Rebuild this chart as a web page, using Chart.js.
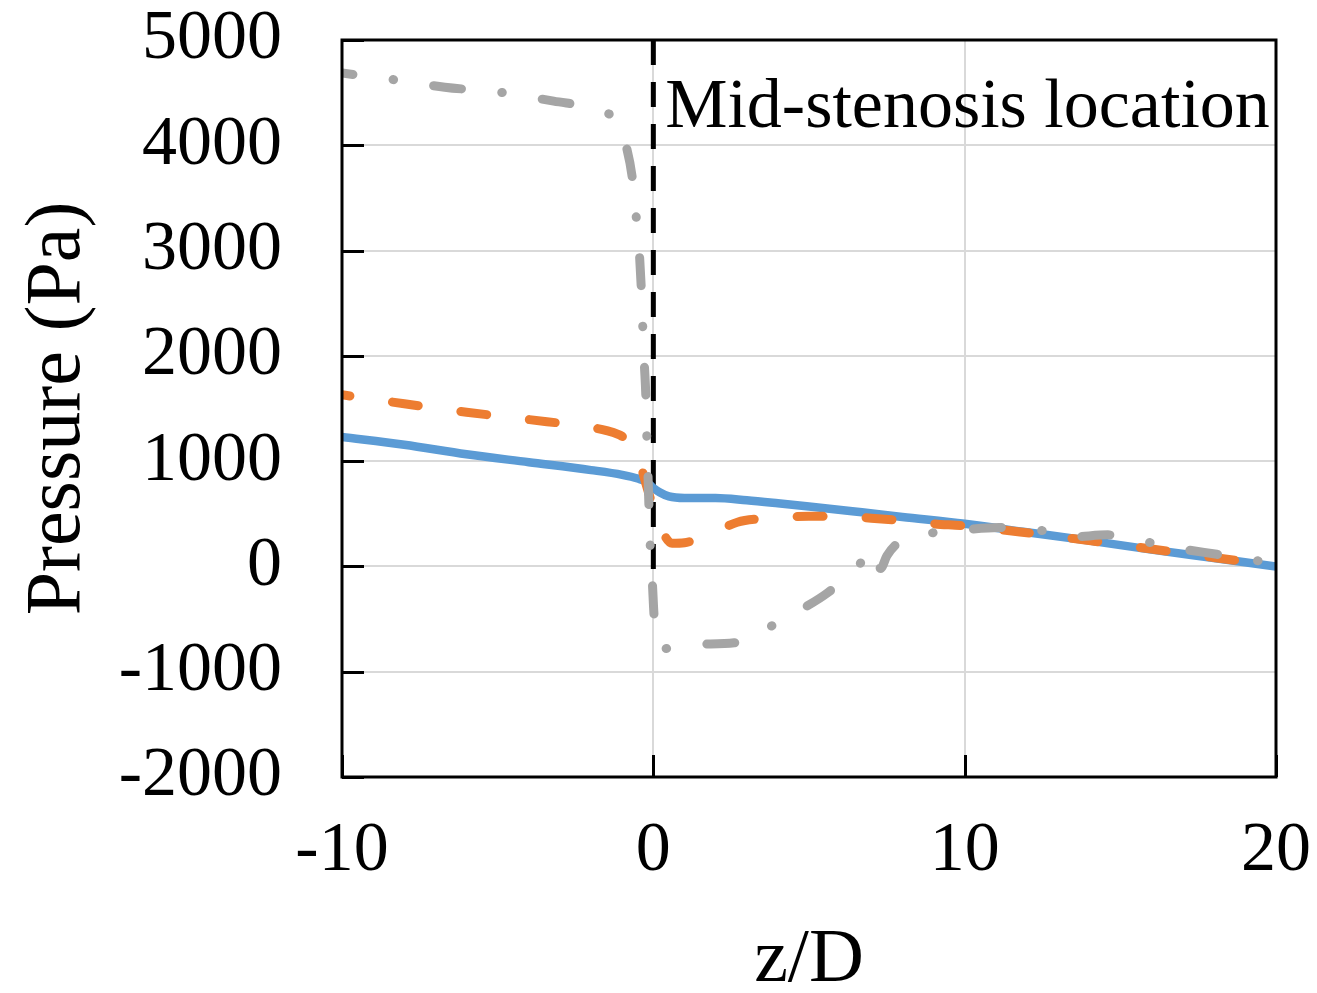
<!DOCTYPE html>
<html lang="en">
<head>
  <meta charset="UTF-8">
  <title>Pressure along z/D</title>
  <script src="https://cdn.jsdelivr.net/npm/chart.js"></script>
  <style>
    html, body { margin: 0; padding: 0; background: #fff; }
    canvas { display: block; }
  </style>
</head>
<body>
  <canvas id="pressureChart" width="1317" height="993"></canvas>

  <script>
    // axis ticks
    const xTicks = [-10, 0, 10, 20];
    const yTicks = [-2000, -1000, 0, 1000, 2000, 3000, 4000, 5000];

    // solid blue curve
    const zBlue = [-10, -8, -6, -4, -2, -1, -0.5, -0.2, 0, 0.2, 0.5, 1, 2, 3, 4, 5, 6.7, 8, 10, 12, 14, 16, 18, 20];
    const pBlue = [1230, 1155, 1065, 990, 915, 870, 835, 800, 745, 705, 665, 650, 650, 628, 600, 570, 514, 470, 405, 325, 245, 160, 80, 0];

    // dashed orange curve
    const zOrange = [-10, -8, -6, -4, -2, -1.5, -1, -0.7, -0.5, -0.3, -0.1, 0.1, 0.3, 0.6, 1, 1.5, 2, 2.7, 3.5, 4, 5, 6, 7, 8, 9, 10, 12, 14, 16, 18, 20];
    const pOrange = [1630, 1545, 1465, 1395, 1320, 1290, 1235, 1155, 1070, 850, 650, 500, 330, 220, 225, 270, 330, 420, 455, 465, 476, 476, 458, 435, 405, 385, 320, 245, 165, 85, 5];

    // dash-dot grey curve
    const zGray = [-10, -8.5, -6.7, -4.7, -3.2, -2, -1.5, -1.1, -0.87, -0.68, -0.55, -0.45, -0.39, -0.34, -0.29, -0.24, -0.21, -0.17, -0.14, -0.1, -0.03, 0.03, 0.32, 0.8, 1.4, 2.6, 3.7, 4.8, 5.6, 6.56, 6.9, 7.1, 7.3, 7.5, 7.85, 8.9, 9.9, 11.1, 12.4, 13.4, 14.6, 15.9, 16.9, 18.1, 19.4, 20];
    const pGray = [4686, 4630, 4552, 4495, 4419, 4360, 4310, 4200, 3990, 3700, 3320, 2980, 2660, 2280, 1930, 1610, 1230, 850, 560, 200, -160, -490, -780, -770, -740, -725, -580, -400, -250, 0, 120, 170, -20, 100, 220, 315, 345, 370, 345, 280, 300, 230, 170, 115, 55, 10];

    // mid-stenosis marker
    const midZ = [0, 0];
    const midP = [5000, -60];
    const noteText = 'Mid-stenosis location';
    const noteZ = 0.38;
    const noteP = 4175;

    const serif = 'Liberation Serif';
    const toPoints = (xs, ys) => xs.map((x, i) => ({ x: x, y: ys[i] }));

    // keep the plot box fixed: no extra room for overhanging labels
    const noPad = s => {
      s.paddingTop = 0;
      s.paddingBottom = 0;
      s.paddingLeft = 0;
      s.paddingRight = 0;
    };

    // inward tick marks, box frame and the text label
    const framePlugin = {
      id: 'frame',
      afterDatasetsDraw(chart) {
        const { ctx, chartArea: a, scales: { x, y } } = chart;
        ctx.save();
        ctx.strokeStyle = '#000';
        ctx.lineWidth = 3;
        ctx.beginPath();
        yTicks.forEach(v => {
          const py = Math.round(y.getPixelForValue(v)) + 0.5;
          ctx.moveTo(a.left, py);
          ctx.lineTo(a.left + 22, py);
        });
        xTicks.forEach(v => {
          const px = Math.round(x.getPixelForValue(v)) + 0.5;
          ctx.moveTo(px, a.bottom);
          ctx.lineTo(px, a.bottom - 22);
        });
        ctx.stroke();
        ctx.strokeRect(a.left, a.top, a.right - a.left, a.bottom - a.top);

        ctx.fillStyle = '#000';
        ctx.font = '70px "' + serif + '"';
        ctx.textBaseline = 'alphabetic';
        ctx.textAlign = 'left';
        ctx.fillText(noteText, x.getPixelForValue(noteZ), y.getPixelForValue(noteP));
        ctx.restore();
      }
    };

    new Chart(document.getElementById('pressureChart'), {
      type: 'line',
      data: {
        datasets: [
          {
            data: toPoints(zGray, pGray),
            borderColor: '#a5a5a5',
            borderWidth: 9,
            borderDash: [28, 40.5, 0.5, 40.5],
            borderDashOffset: 17,
            borderCapStyle: 'round',
            cubicInterpolationMode: 'monotone',
            order: 0
          },
          {
            data: toPoints(zOrange, pOrange),
            borderColor: '#ed7d31',
            borderWidth: 9,
            borderDash: [26, 43],
            borderDashOffset: 18,
            borderCapStyle: 'round',
            cubicInterpolationMode: 'monotone',
            order: 1
          },
          {
            data: toPoints(zBlue, pBlue),
            borderColor: '#5b9bd5',
            borderWidth: 8.5,
            cubicInterpolationMode: 'monotone',
            order: 2
          },
          {
            data: toPoints(midZ, midP),
            borderColor: '#000',
            borderWidth: 5,
            borderDash: [25, 17],
            order: 3
          }
        ]
      },
      options: {
        responsive: false,
        animation: false,
        devicePixelRatio: 1,
        layout: { padding: { top: 40, right: 41, left: 0, bottom: 0 } },
        elements: { point: { radius: 0 } },
        plugins: { legend: { display: false }, tooltip: { enabled: false } },
        scales: {
          x: {
            type: 'linear',
            min: -10,
            max: 20,
            afterBuildTicks: s => { s.ticks = xTicks.map(v => ({ value: v })); },
            afterFit: s => { s.height = 216; noPad(s); },
            grid: { color: '#d9d9d9', lineWidth: 2, drawTicks: false },
            border: { display: false },
            ticks: {
              color: '#000',
              padding: 40,
              maxRotation: 0,
              font: { family: serif, size: 70, lineHeight: 1 },
              callback: v => String(v)
            },
            title: {
              display: true,
              text: 'z/D',
              color: '#000',
              font: { family: serif, size: 76, lineHeight: 0.85 },
              padding: 0
            }
          },
          y: {
            min: -2000,
            max: 5000,
            afterBuildTicks: s => { s.ticks = yTicks.map(v => ({ value: v })); },
            afterFit: s => { s.width = 342; noPad(s); },
            grid: { color: '#d9d9d9', lineWidth: 2, drawTicks: false },
            border: { display: false },
            ticks: {
              color: '#000',
              padding: 60,
              font: { family: serif, size: 70, lineHeight: 1 },
              callback: v => String(v)
            },
            title: {
              display: true,
              text: 'Pressure (Pa)',
              color: '#000',
              font: { family: serif, size: 78, lineHeight: 1 },
              padding: { top: 20, bottom: 0 }
            }
          }
        }
      },
      plugins: [framePlugin]
    });
  </script>
</body>
</html>
